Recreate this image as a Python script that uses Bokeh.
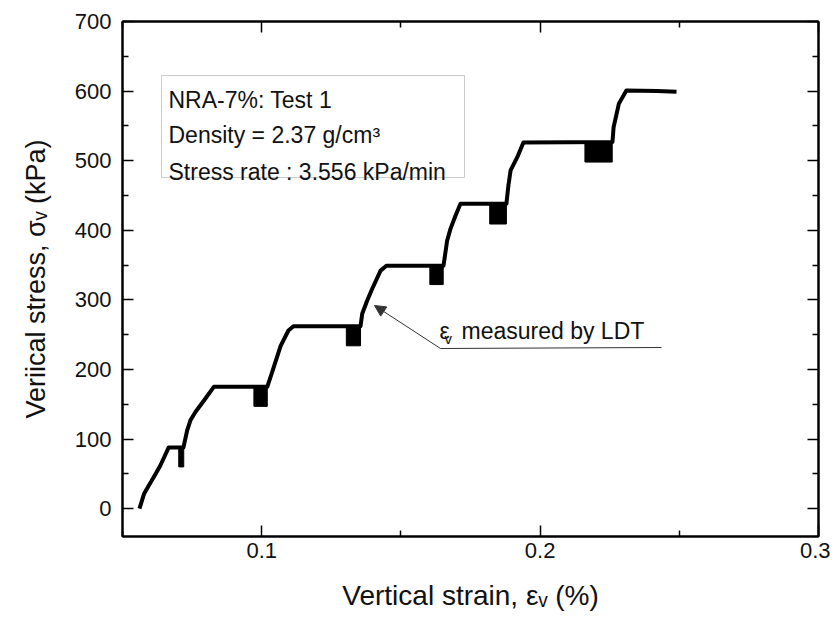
import math
from bokeh.plotting import figure
from bokeh.models import (Range1d, FixedTicker, LinearAxis, Label, BoxAnnotation,
                          Arrow, NormalHead)
from bokeh.embed import file_html
from bokeh.resources import INLINE

# ---------------- data ----------------
strain = [0.0561, 0.0577, 0.0594, 0.0612, 0.0636, 0.0666, 0.0719,
          0.0720, 0.0732, 0.0744, 0.0762, 0.0792, 0.0828, 0.1020,
          0.1039, 0.1068, 0.1096, 0.1114, 0.1355,
          0.1361, 0.1379, 0.1397, 0.1427, 0.1448, 0.1653,
          0.1666, 0.1678, 0.1696, 0.1714, 0.1879,
          0.1886, 0.1894, 0.1918, 0.1940, 0.2260,
          0.2264, 0.2283, 0.2310, 0.2420, 0.2490]
stress = [0, 21, 33, 45, 62, 88, 88,
          90, 112, 127, 139, 155, 175, 175,
          198, 234, 256, 262, 262,
          280, 299, 316, 342, 349, 349,
          385, 402, 421, 438, 438,
          464, 486, 505, 526, 527,
          548, 582, 601, 600, 599]

# unload/reload cycles at the end of each stress stage
loop_strain_start = [0.0702, 0.0972, 0.1304, 0.1604, 0.1819, 0.2161]
loop_strain_end = [0.0720, 0.1020, 0.1355, 0.1652, 0.1879, 0.2259]
loop_stress_top = [88, 175, 262, 349, 438, 527]
loop_stress_bottom = [60, 147, 234, 322, 409, 498]

x_ticks = [0.1, 0.2, 0.3]
x_minor_ticks = [0.05, 0.15, 0.25]
y_ticks = [0, 100, 200, 300, 400, 500, 600, 700]
y_minor_ticks = [50, 150, 250, 350, 450, 550, 650]

X0, X1 = 0.05, 0.3
Y0, Y1 = -40, 700
FW, FH = 696, 515
FL, FT = 122, 21  # frame left/top in the picture


def dx(px):
    return X0 + (px - FL) * (X1 - X0) / FW


def dy(py):
    return Y1 - (py - FT) * (Y1 - Y0) / FH


FONT = "Liberation Sans"
TXT = "#111111"

p = figure(frame_width=FW, frame_height=FH,
           x_range=Range1d(X0, X1), y_range=Range1d(Y0, Y1),
           output_backend="svg", toolbar_location=None,
           min_border_left=FL, min_border_right=12,
           min_border_top=FT, min_border_bottom=80,
           background_fill_color="white", border_fill_color="white")
p.xgrid.visible = False
p.ygrid.visible = False
p.outline_line_color = "black"
p.outline_line_width = 2


def style_axis(ax, ticker, labels):
    ax.ticker = ticker
    ax.axis_line_color = "black"
    ax.axis_line_width = 2
    ax.major_tick_in = 11
    ax.major_tick_out = 0
    ax.minor_tick_in = 6
    ax.minor_tick_out = 0
    ax.major_tick_line_color = "black"
    ax.major_tick_line_width = 1.5
    ax.minor_tick_line_color = "black"
    ax.minor_tick_line_width = 1.5
    if labels:
        ax.major_label_text_font = FONT
        ax.major_label_text_font_size = "22px"
        ax.major_label_text_color = TXT
        ax.axis_label_text_font = FONT
        ax.axis_label_text_font_size = "27px"
        ax.axis_label_text_font_style = "normal"
        ax.axis_label_text_color = TXT
    else:
        ax.axis_label = None
        ax.major_label_text_font_size = "1px"
        ax.major_label_text_color = None
        ax.major_label_standoff = 0


xt = FixedTicker(ticks=x_ticks, minor_ticks=x_minor_ticks)
yt = FixedTicker(ticks=y_ticks, minor_ticks=y_minor_ticks)

style_axis(p.xaxis[0], xt, True)
p.xaxis[0].major_label_standoff = 6
p.xaxis[0].axis_label = "Vertical strain, \u03b5\u1d65 (%)"
p.xaxis[0].axis_label_text_font_size = "28px"
p.xaxis[0].axis_label_standoff = 19
style_axis(p.yaxis[0], yt, True)
p.yaxis[0].major_label_standoff = 11
p.yaxis[0].axis_label = "Veriical stress, \u03c3\u1d65 (kPa)"
p.yaxis[0].axis_label_standoff = 21

ax_r = LinearAxis()
style_axis(ax_r, FixedTicker(ticks=y_ticks, minor_ticks=y_minor_ticks), False)
p.add_layout(ax_r, "right")
ax_t = LinearAxis()
style_axis(ax_t, FixedTicker(ticks=x_ticks, minor_ticks=x_minor_ticks), False)
p.add_layout(ax_t, "above")

# ---------------- marks ----------------
p.quad(left=loop_strain_start, right=loop_strain_end,
       top=loop_stress_top, bottom=loop_stress_bottom,
       fill_color="black", line_color="black", line_width=1)
p.line(strain, stress, line_color="black", line_width=4, line_join="round")

# ---------------- text box ----------------
p.add_layout(BoxAnnotation(left=dx(161), right=dx(464), top=dy(75), bottom=dy(177),
                           fill_color=None, line_color="#555555", line_width=1))
box_lines = ["NRA-7%: Test 1", "Density = 2.37 g/cm\u00b3", "Stress rate : 3.556 kPa/min"]
box_base = [99, 134, 171]
for t, b in zip(box_lines, box_base):
    p.add_layout(Label(x=dx(168), y=dy(b), text=t, text_font=FONT,
                       text_font_size="23px", text_color=TXT,
                       text_align="left", text_baseline="alphabetic"))

# ---------------- arrow annotation ----------------
p.add_layout(Arrow(end=NormalHead(size=11, fill_color="#333333", line_color="#333333", line_width=1),
                   x_start=dx(440), y_start=dy(348), x_end=dx(374), y_end=dy(305),
                   line_color="#333333", line_width=1))
p.add_layout(Arrow(end=None, x_start=dx(440), y_start=dy(348), x_end=dx(661), y_end=dy(347),
                   line_color="#333333", line_width=1))


def lab(px, py, text, size):
    p.add_layout(Label(x=dx(px), y=dy(py), text=text, text_font=FONT,
                       text_font_size=size, text_color=TXT,
                       text_align="left", text_baseline="alphabetic"))


lab(439, 330, "\u03b5", "23px")
lab(444, 338, "v", "15px")
lab(461, 330, "measured by LDT", "23px")

open("out.html", "w").write(file_html(p, INLINE))
